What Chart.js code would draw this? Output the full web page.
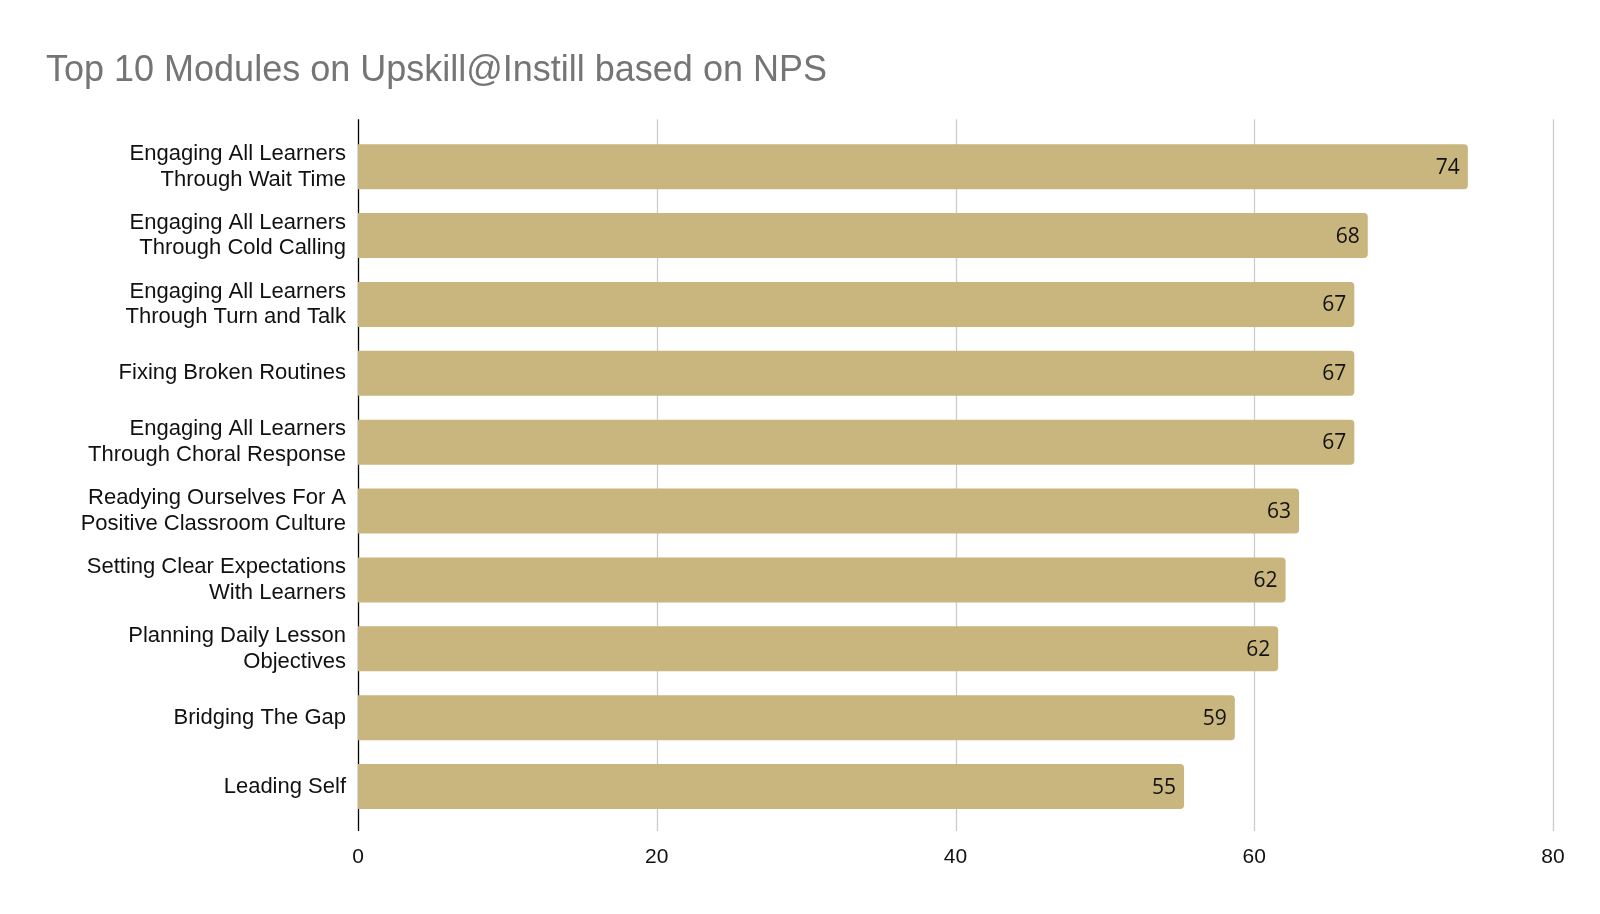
<!DOCTYPE html>
<html>
<head>
<meta charset="utf-8">
<title>Top 10 Modules on Upskill@Instill based on NPS</title>
<script src="https://cdn.jsdelivr.net/npm/chart.js@4"></script>
<style>
  html, body { margin: 0; padding: 0; background: #fff; }
</style>
</head>
<body>
<canvas id="npsChart" width="1600" height="914"></canvas>
<script>
const modules = [
    ['Engaging All Learners', 'Through Wait Time'],
    ['Engaging All Learners', 'Through Cold Calling'],
    ['Engaging All Learners', 'Through Turn and Talk'],
    'Fixing Broken Routines',
    ['Engaging All Learners', 'Through Choral Response'],
    ['Readying Ourselves For A', 'Positive Classroom Culture'],
    ['Setting Clear Expectations', 'With Learners'],
    ['Planning Daily Lesson', 'Objectives'],
    'Bridging The Gap',
    'Leading Self'
];
const npsScores = [74.3, 67.6, 66.7, 66.7, 66.7, 63.0, 62.1, 61.6, 58.7, 55.3];
const xTicks = [0, 20, 40, 60, 80];

// gridlines run a bit past the bars, like the original
const gridPlugin = {
    id: 'grid',
    beforeDatasetsDraw(chart) {
        const { ctx, chartArea, scales } = chart;
        const top = chartArea.top - 13, bottom = chartArea.bottom + 10;
        ctx.save();
        xTicks.forEach(t => {
            const x = Math.round(scales.x.getPixelForValue(t)) + 0.5;
            ctx.strokeStyle = t === 0 ? '#000' : '#cccccc';
            ctx.lineWidth = 1.3;
            ctx.beginPath();
            ctx.moveTo(x, top);
            ctx.lineTo(x, bottom);
            ctx.stroke();
        });
        ctx.restore();
    }
};

const valueLabels = {
    id: 'valueLabels',
    afterDatasetsDraw(chart) {
        const { ctx } = chart;
        const meta = chart.getDatasetMeta(0);
        ctx.save();
        ctx.font = '21px "Open Sans"';
        ctx.fillStyle = '#111';
        ctx.textAlign = 'right';
        ctx.textBaseline = 'middle';
        meta.data.forEach((bar, i) => {
            ctx.fillText(Math.round(npsScores[i]), bar.x - 8, bar.y + 1);
        });
        ctx.restore();
    }
};

const ctx = document.getElementById('npsChart').getContext('2d');
new Chart(ctx, {
    type: 'bar',
    data: {
        labels: modules,
        datasets: [{
            label: 'NPS',
            data: npsScores,
            backgroundColor: 'rgb(201, 182, 126)',
            borderRadius: 4,
            borderSkipped: 'start',
            barPercentage: 0.653,
            categoryPercentage: 1
        }]
    },
    options: {
        responsive: false,
        animation: false,
        indexAxis: 'y',
        layout: { padding: { left: 46, right: 47, top: 0, bottom: 0 } },
        plugins: {
            legend: { display: false },
            tooltip: { enabled: false },
            title: {
                display: true,
                text: 'Top 10 Modules on Upskill@Instill based on NPS',
                align: 'start',
                color: '#757575',
                font: { family: '"Liberation Sans", Arial, sans-serif', size: 36, weight: 'normal', lineHeight: 1.2 },
                padding: { top: 49, bottom: 40 }
            }
        },
        scales: {
            x: {
                min: 0,
                max: 80,
                ticks: {
                    stepSize: 20,
                    color: '#111',
                    padding: 24,
                    font: { family: '"Liberation Sans", Arial, sans-serif', size: 21 }
                },
                grid: { display: false, drawTicks: false },
                border: { display: false },
                afterFit(scale) { scale.height = 93; }
            },
            y: {
                ticks: {
                    color: '#111',
                    padding: 12,
                    font: { family: '"Liberation Sans", Arial, sans-serif', size: 22, lineHeight: 1.17 }
                },
                grid: { display: false, drawTicks: false },
                border: { display: false },
                afterFit(scale) { scale.width = 312; }
            }
        }
    },
    plugins: [gridPlugin, valueLabels]
});
</script>
</body>
</html>
